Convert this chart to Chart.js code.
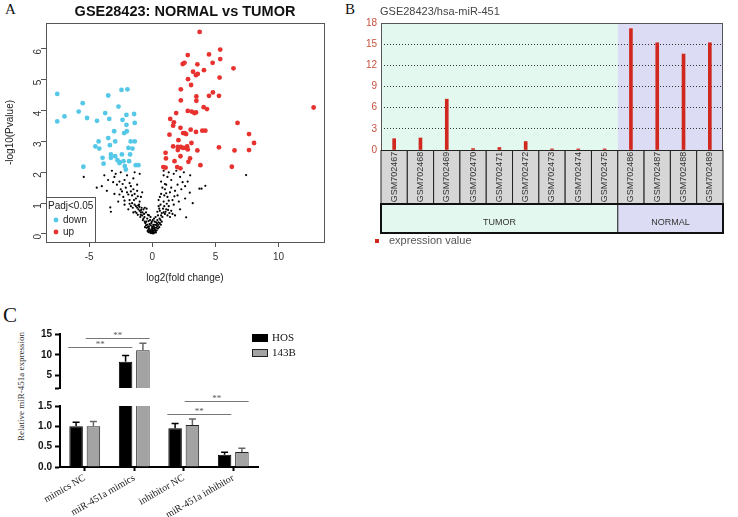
<!DOCTYPE html>
<html>
<head>
<meta charset="utf-8">
<script src="https://cdn.jsdelivr.net/npm/chart.js@4.4.0/dist/chart.umd.min.js"></script>
<style>
  body { margin: 0; background: #fff; width: 738px; height: 517px; position: relative; overflow: hidden; }
  canvas { position: absolute; }
  .lbl { position: absolute; font-family: 'Liberation Serif', serif; color: #111; line-height: 1; }
</style>
</head>
<body>
<div class="lbl" style="left:5px;top:2px;font-size:15px;">A</div>
<div class="lbl" style="left:345px;top:2px;font-size:15px;">B</div>
<div class="lbl" style="left:3px;top:305px;font-size:21px;">C</div>
<div class="lbl" style="left:-39px;top:382px;width:120px;text-align:center;font-size:9px;transform:rotate(-90deg);color:#333;">Relative miR-451a expression</div>

<canvas id="volcano" width="345" height="290" style="left:0;top:0"></canvas>
<canvas id="expr" width="373" height="260" style="left:365px;top:0"></canvas>
<canvas id="qpcrLow" width="310" height="130" style="left:0;top:387px"></canvas>
<canvas id="qpcrHigh" width="310" height="72" style="left:0;top:325px"></canvas>

<script>
// ---- panel A: volcano plot ----
const volcanoXTicks = [-5, 0, 5, 10];
const volcanoYTicks = [0, 1, 2, 3, 4, 5, 6];

const downPoints = [
  [-7.53, 4.54], [-7.53, 3.65], [-6.96, 3.81], [-5.83, 3.97], [-5.51, 4.24], [-5.17, 3.76],
  [-5.46, 2.18], [-4.38, 3.67], [-4.51, 2.84], [-4.25, 3.0], [-4.2, 2.77], [-3.94, 2.47],
  [-3.86, 2.28], [-3.49, 4.49], [-3.73, 3.92], [-3.49, 3.11], [-3.41, 3.73], [-3.36, 2.88],
  [-3.28, 2.58], [-3.28, 2.47], [-3.02, 3.33], [-2.94, 3.0], [-2.94, 2.52], [-2.68, 4.13],
  [-2.76, 2.39], [-2.57, 2.33], [-2.44, 4.67], [-2.36, 3.70], [-2.41, 2.58], [-2.23, 3.27],
  [-2.28, 2.36], [-2.18, 2.2], [-2.05, 3.86], [-2.05, 3.54], [-1.97, 4.69], [-2.02, 3.33],
  [-1.89, 2.79], [-1.76, 2.58], [-1.84, 2.36], [-1.71, 3.0], [-1.57, 2.77], [-1.44, 3.89],
  [-1.39, 3.6], [-1.39, 3.0], [-1.31, 2.23], [-1.1, 2.23], [-2.1, 2.09], [-2.6, 2.3]
];

const upPoints = [
  [3.75, 6.55], [5.38, 5.98], [2.81, 5.80], [4.49, 5.82], [5.38, 5.67], [2.41, 5.51],
  [2.55, 5.55], [3.57, 5.50], [4.78, 5.55], [6.43, 5.37], [4.09, 5.31], [3.23, 5.26],
  [3.6, 5.19], [3.46, 5.15], [5.33, 5.07], [2.83, 5.02], [3.07, 4.83], [2.26, 4.69],
  [4.8, 4.59], [3.49, 4.46], [4.49, 4.48], [5.28, 4.48], [3.49, 4.32], [2.26, 4.33],
  [4.07, 4.11], [4.33, 4.05], [12.78, 4.1], [2.81, 3.99], [3.12, 3.97], [3.33, 3.92],
  [3.46, 3.94], [1.89, 3.92], [1.42, 3.73], [1.71, 3.62], [1.65, 3.51], [6.75, 3.6],
  [2.23, 3.44], [3.04, 3.38], [3.96, 3.35], [4.2, 3.35], [3.46, 3.31], [2.44, 3.27],
  [2.57, 3.27], [2.68, 3.24], [1.36, 3.22], [7.66, 3.24], [2.07, 3.04], [3.1, 2.95],
  [8.06, 2.95], [1.65, 2.84], [2.02, 2.82], [2.26, 2.82], [2.62, 2.79], [2.76, 2.84],
  [2.02, 2.72], [2.44, 2.79], [2.81, 2.74], [3.57, 2.71], [5.28, 2.81], [6.51, 2.71],
  [7.66, 2.72], [2.23, 2.52], [1.05, 2.63], [1.08, 2.45], [1.76, 2.36], [2.86, 2.34],
  [3.81, 2.23], [0.87, 2.17], [1.05, 2.15], [1.97, 2.17], [2.23, 2.13], [6.3, 2.18],
  [2.99, 2.45]
];

const nsPoints = [
  [0, 0.02], [0.05, 0.05], [-0.05, 0.06], [0.1, 0.1], [-0.1, 0.08], [0.15, 0.04], [-0.15, 0.12],
  [0.2, 0.15], [-0.2, 0.1], [0.25, 0.08], [-0.25, 0.18], [0.3, 0.2], [-0.3, 0.14], [0.35, 0.12],
  [-0.35, 0.22], [0.4, 0.25], [-0.4, 0.3], [0.45, 0.18], [-0.45, 0.2], [0.5, 0.3], [-0.5, 0.28],
  [0.55, 0.22], [-0.55, 0.35], [0.6, 0.35], [-0.6, 0.4], [0.02, 0.15], [-0.02, 0.2], [0.12, 0.25],
  [-0.12, 0.28], [0.22, 0.3], [-0.22, 0.32], [0.08, 0.3], [-0.08, 0.35], [0.3, 0.38], [-0.3, 0.42],
  [0.65, 0.45], [-0.7, 0.5], [0.75, 0.4], [-0.75, 0.45], [0.18, 0.4], [-0.18, 0.45], [0.4, 0.45],
  [-0.4, 0.5], [0.1, 0.02], [-0.12, 0.03], [0.28, 0.05], [-0.3, 0.06], [0.03, 0.09], [0.17, 0.2],
  [-0.07, 0.14], [0.07, 0.18], [-0.17, 0.05], [0.22, 0.11], [-0.27, 0.25], [0.33, 0.28], [-0.37, 0.1],
  [0.38, 0.33], [-0.48, 0.4], [0.48, 0.38], [-0.58, 0.22], [0.58, 0.5], [-0.62, 0.55], [0.68, 0.3],
  [0.0, 0.24], [-0.04, 0.4], [0.04, 0.45], [0.14, 0.5], [-0.14, 0.55], [0.26, 0.55], [-0.26, 0.6],
  [-0.8, 0.6], [-0.9, 0.7], [-1.0, 0.75], [-1.1, 0.8], [-0.65, 0.65], [-1.2, 0.85], [-1.3, 0.9],
  [-0.95, 0.55], [-1.4, 0.95], [-1.5, 0.7], [-1.7, 0.9], [-1.9, 0.8], [-0.5, 0.7], [-1.15, 0.62],
  [-2.2, 0.95], [-1.6, 1.0], [-0.85, 0.85], [-1.05, 0.95], [-0.7, 0.8], [-1.35, 0.72],
  [-0.78, 0.7], [-0.88, 0.78], [-1.02, 0.88], [-1.25, 0.68], [-0.6, 0.85], [-1.55, 0.85],
  [-1.8, 0.98], [-0.92, 0.62], [-1.12, 0.92], [-0.45, 0.82],
  [0.7, 0.6], [0.8, 0.55], [0.9, 0.7], [1.0, 0.65], [1.1, 0.8], [1.2, 0.6], [0.6, 0.75],
  [1.3, 0.9], [1.5, 0.75], [1.7, 0.95], [0.95, 0.9], [1.8, 0.6], [2.2, 0.8], [2.68, 0.54],
  [0.5, 0.9], [1.4, 0.55], [0.45, 0.6], [-0.35, 0.62], [0.85, 0.82], [1.15, 0.98], [0.65, 0.95],
  [0.75, 0.68], [1.05, 0.72], [1.25, 0.78], [0.55, 0.82], [1.6, 0.65], [1.35, 0.68], [0.4, 0.72],
  [-1.0, 1.05], [-1.3, 1.15], [-1.6, 1.25], [-1.8, 1.1], [-2.0, 1.35], [-2.3, 1.2], [-2.5, 1.45],
  [-1.2, 1.4], [-0.9, 1.2], [-2.7, 1.05], [-3.0, 1.3], [-2.1, 1.5], [-1.5, 1.45], [-3.33, 0.86],
  [-3.28, 0.72], [-4.4, 1.5], [-3.6, 1.4], [-1.9, 1.28], [-2.4, 1.38], [-1.4, 1.3],
  [-1.15, 1.22], [-1.7, 1.38], [-2.6, 1.28], [-2.2, 1.08], [-1.45, 1.1], [-0.8, 1.35],
  [0.5, 1.1], [0.7, 1.3], [0.9, 1.05], [1.0, 1.45], [1.2, 1.2], [1.4, 1.35], [1.6, 1.1],
  [1.8, 1.4], [2.0, 1.25], [2.3, 1.45], [2.6, 1.15], [2.97, 1.34], [3.2, 1.0], [0.8, 1.5],
  [1.5, 1.5], [2.1, 1.05], [0.6, 1.2], [1.1, 1.32], [1.75, 1.22], [0.95, 1.25], [1.3, 1.08],
  [-1.2, 1.6], [-1.5, 1.8], [-1.8, 1.65], [-2.0, 1.9], [-2.2, 1.75], [-2.5, 2.0], [-2.8, 1.6],
  [-3.0, 1.85], [-3.2, 2.05], [-2.6, 1.7], [-1.0, 1.95], [-3.5, 1.75], [-4.0, 1.55], [-5.43, 1.85],
  [-1.4, 2.0], [-2.9, 1.95], [-3.8, 1.9], [-1.7, 1.55], [-2.35, 1.62], [-3.1, 1.68],
  [0.7, 1.7], [0.9, 1.9], [1.1, 1.6], [1.3, 2.0], [1.5, 1.75], [1.7, 1.95], [2.0, 1.6],
  [2.2, 1.85], [2.5, 2.0], [2.8, 1.7], [3.0, 1.9], [3.73, 1.47], [3.9, 1.47], [4.2, 1.56],
  [7.43, 1.91], [1.2, 1.85], [2.6, 1.55], [1.9, 2.05], [0.9, 2.05], [2.4, 1.68], [1.0, 1.62]
];

// ---- panel B: GEO expression profile ----
const exprSamples = ['GSM702467', 'GSM702468', 'GSM702469', 'GSM702470', 'GSM702471', 'GSM702472',
  'GSM702473', 'GSM702474', 'GSM702475', 'GSM702486', 'GSM702487', 'GSM702488', 'GSM702489'];
const exprValues = [1.6, 1.7, 7.2, 0.2, 0.35, 1.2, 0.15, 0.15, 0.15, 17.2, 15.2, 13.6, 15.2];
const exprGroups = ['TUMOR', 'NORMAL'];
const exprGroupSizes = [9, 4];
const exprYTicks = [0, 3, 6, 9, 12, 15, 18];

// ---- panel C: qPCR ----
const qpcrCategories = ['mimics NC', 'miR-451a mimics', 'inhibitor NC', 'miR-451a inhibitor'];
const hosMean = [1.0, 8.3, 0.95, 0.3];
const hosErr = [0.1, 1.5, 0.12, 0.06];
const b143Mean = [1.0, 11.1, 1.03, 0.37];
const b143Err = [0.12, 1.7, 0.15, 0.09];
const qpcrHighTicks = [2, 5, 10, 15];
const qpcrLowTicks = [0, 0.5, 1.0, 1.5];
// significance brackets: [dataset, category] from -> to, and bracket height
const sigHigh = [
  { from: [0, 0], to: [0, 1], level: 11.8 },
  { from: [1, 0], to: [1, 1], level: 14.15 }
];
const sigLow = [
  { from: [0, 2], to: [0, 3], level: 1.31 },
  { from: [1, 2], to: [1, 3], level: 1.62 }
];

Chart.defaults.font.family = 'Liberation Sans';
Chart.defaults.animation = false;
Chart.defaults.plugins.legend.display = false;
Chart.defaults.plugins.tooltip.enabled = false;

const toPts = arr => arr.map(([x, y]) => ({ x, y }));

const volcanoDecor = {
  id: 'volcanoDecor',
  afterDatasetsDraw(chart) {
    const { ctx, chartArea: a } = chart;
    ctx.save();
    ctx.strokeStyle = '#555';
    ctx.lineWidth = 1;
    ctx.strokeRect(a.left + 0.5, a.top + 0.5, a.right - a.left, a.bottom - a.top);
    // title centred over the plot box
    ctx.fillStyle = '#111';
    ctx.font = 'bold 14.5px Liberation Sans';
    ctx.textAlign = 'center';
    ctx.textBaseline = 'middle';
    ctx.fillText('GSE28423: NORMAL vs TUMOR', (a.left + a.right) / 2, 12);
    // R style legend box in lower left
    const lx = a.left, ly = a.bottom - 45;
    ctx.textAlign = 'left';
    ctx.fillStyle = '#fff';
    ctx.fillRect(lx, ly, 49, 45);
    ctx.strokeRect(lx + 0.5, ly + 0.5, 49, 45);
    ctx.font = '10px Liberation Sans';
    ctx.fillStyle = '#222';
    ctx.fillText('Padj<0.05', lx + 2, ly + 9);
    ctx.fillStyle = '#55c8e8';
    ctx.beginPath(); ctx.arc(lx + 10, ly + 23, 2.4, 0, Math.PI * 2); ctx.fill();
    ctx.fillStyle = '#e8322f';
    ctx.beginPath(); ctx.arc(lx + 10, ly + 35, 2.4, 0, Math.PI * 2); ctx.fill();
    ctx.fillStyle = '#222';
    ctx.fillText('down', lx + 17, ly + 23);
    ctx.fillText('up', lx + 17, ly + 35);
    ctx.restore();
  }
};

new Chart(document.getElementById('volcano'), {
  type: 'scatter',
  data: {
    datasets: [
      { label: 'up', data: toPts(upPoints), pointRadius: 2.4, backgroundColor: '#e8322f', borderWidth: 0 },
      { label: 'down', data: toPts(downPoints), pointRadius: 2.4, backgroundColor: '#55c8e8', borderWidth: 0 },
      { label: 'ns', data: toPts(nsPoints), pointRadius: 1.1, backgroundColor: '#000', borderWidth: 0 }
    ]
  },
  options: {
    responsive: false,
    layout: { padding: { left: 0, right: 21, top: 23, bottom: 0 } },
    scales: {
      x: {
        type: 'linear', min: -8.42, max: 13.6,
        afterBuildTicks: s => { s.ticks = volcanoXTicks.map(v => ({ value: v })); },
        afterFit: s => { s.height = 48; },
        grid: { drawOnChartArea: false, tickLength: 5, color: '#555' },
        border: { display: false },
        ticks: { font: { size: 10 }, color: '#333', padding: 4 },
        title: { display: true, text: 'log2(fold change)', font: { size: 10 }, color: '#222', padding: { top: 0, bottom: 6 } }
      },
      y: {
        type: 'linear', min: -0.26, max: 6.84,
        afterBuildTicks: s => { s.ticks = volcanoYTicks.map(v => ({ value: v })); },
        afterFit: s => { s.width = 46; },
        grid: { drawOnChartArea: false, tickLength: 5, color: '#555' },
        border: { display: false },
        ticks: { font: { size: 10 }, color: '#333', padding: 3, minRotation: 90, maxRotation: 90 },
        title: { display: true, text: '-log10(Pvalue)', font: { size: 10 }, color: '#222', padding: { top: 4, bottom: 0 } }
      }
    }
  },
  plugins: [volcanoDecor]
});

// panel B: shaded groups, sample table, legend
const exprDecor = {
  id: 'exprDecor',
  beforeDraw(chart) {
    const { ctx, chartArea: a, scales: { x } } = chart;
    const split = (x.getPixelForValue(exprGroupSizes[0] - 1) + x.getPixelForValue(exprGroupSizes[0])) / 2;
    ctx.save();
    ctx.fillStyle = '#e3f8ef';
    ctx.fillRect(a.left, a.top, split - a.left, a.bottom - a.top);
    ctx.fillStyle = '#dcdcf4';
    ctx.fillRect(split, a.top, a.right - split, a.bottom - a.top);
    ctx.restore();
  },
  afterDraw(chart) {
    const { ctx, chartArea: a, scales: { x } } = chart;
    const w = (a.right - a.left) / exprSamples.length;
    const split = a.left + w * exprGroupSizes[0];
    ctx.save();
    ctx.strokeStyle = '#555';
    ctx.lineWidth = 1;
    ctx.strokeRect(a.left + 0.5, a.top + 0.5, a.right - a.left - 1, a.bottom - a.top);
    // sample name cells
    const cTop = a.bottom, cH = 54;
    ctx.font = '9px Liberation Sans';
    ctx.textAlign = 'center';
    ctx.textBaseline = 'middle';
    exprSamples.forEach((name, i) => {
      const cx = x.getPixelForValue(i);
      ctx.fillStyle = '#d6d6d6';
      ctx.fillRect(cx - w / 2, cTop, w, cH);
      ctx.strokeStyle = '#222';
      ctx.strokeRect(cx - w / 2, cTop + 0.5, w, cH);
      ctx.save();
      ctx.translate(cx, cTop + cH / 2);
      ctx.rotate(-Math.PI / 2);
      ctx.fillStyle = '#333';
      ctx.fillText(name, 0, 0);
      ctx.restore();
    });
    // group row
    const gTop = cTop + cH, gH = 29;
    ctx.fillStyle = '#e3f8ef';
    ctx.fillRect(a.left, gTop, split - a.left, gH);
    ctx.fillStyle = '#dcdcf4';
    ctx.fillRect(split, gTop, a.right - split, gH);
    ctx.strokeStyle = '#111';
    ctx.lineWidth = 2;
    ctx.strokeRect(a.left, gTop, a.right - a.left, gH);
    ctx.lineWidth = 1;
    ctx.beginPath(); ctx.moveTo(split, gTop); ctx.lineTo(split, gTop + gH); ctx.stroke();
    ctx.fillStyle = '#333';
    ctx.font = '9px Liberation Sans';
    ctx.fillText(exprGroups[0], (a.left + split) / 2, gTop + gH / 2 + 4);
    ctx.fillText(exprGroups[1], (split + a.right) / 2, gTop + gH / 2 + 4);
    // title and legend
    ctx.textAlign = 'left';
    ctx.font = '11px Liberation Sans';
    ctx.fillStyle = '#444';
    ctx.fillText('GSE28423/hsa-miR-451', 15, 12);
    ctx.fillStyle = '#d0281e';
    ctx.fillRect(10, gTop + gH + 6, 4, 4);
    ctx.fillStyle = '#555';
    ctx.fillText('expression value', 24, gTop + gH + 8);
    ctx.restore();
  }
};

new Chart(document.getElementById('expr'), {
  type: 'bar',
  data: {
    labels: exprSamples,
    datasets: [{ label: 'expression value', data: exprValues, backgroundColor: '#d0281e', barThickness: 3 }]
  },
  options: {
    responsive: false,
    layout: { padding: { left: 0, right: 15, top: 23, bottom: 110 } },
    scales: {
      x: { display: false },
      y: {
        min: 0, max: 18,
        afterBuildTicks: s => { s.ticks = exprYTicks.map(v => ({ value: v })); },
        afterFit: s => { s.width = 16; },
        grid: {
          drawTicks: false,
          color: c => (c.tick && (c.tick.value === 0 || c.tick.value === 18)) ? 'rgba(0,0,0,0)' : '#333'
        },
        border: { display: false, dash: [1, 2] },
        ticks: { font: { size: 10 }, color: '#c8503f', padding: 4 }
      }
    }
  },
  plugins: [exprDecor]
});

// panel C: broken y axis made of two stacked charts
function errorBars(part) {
  return {
    id: 'errorBars' + part,
    afterDatasetsDraw(chart) {
      const { ctx, scales: { y } } = chart;
      const errs = [hosErr, b143Err];
      const cols = ['#000', '#666'];
      ctx.save();
      ctx.lineWidth = 1.5;
      chart.data.datasets.forEach((ds, di) => {
        chart.getDatasetMeta(di).data.forEach((bar, i) => {
          const v = ds.data[i], top = v + errs[di][i];
          if (part === 'high' && v <= y.min) return;
          if (part === 'low' && top > y.max) return;
          const py = y.getPixelForValue(top), pv = y.getPixelForValue(v);
          ctx.strokeStyle = cols[di];
          ctx.beginPath();
          ctx.moveTo(bar.x, pv); ctx.lineTo(bar.x, py);
          ctx.moveTo(bar.x - 3.5, py); ctx.lineTo(bar.x + 3.5, py);
          ctx.stroke();
        });
      });
      ctx.restore();
    }
  };
}

function sigBrackets(list) {
  return {
    id: 'sig',
    afterDraw(chart) {
      const { ctx, scales: { y } } = chart;
      ctx.save();
      ctx.strokeStyle = '#777';
      ctx.fillStyle = '#555';
      ctx.lineWidth = 1;
      ctx.font = '9px Liberation Serif';
      ctx.textAlign = 'center';
      list.forEach(s => {
        const b0 = chart.getDatasetMeta(s.from[0]).data[s.from[1]];
        const b1 = chart.getDatasetMeta(s.to[0]).data[s.to[1]];
        const x0 = b0.x - b0.width / 2 - 1, x1 = b1.x + b1.width / 2;
        const py = Math.round(y.getPixelForValue(s.level)) + 0.5;
        ctx.beginPath(); ctx.moveTo(x0, py); ctx.lineTo(x1, py); ctx.stroke();
        ctx.fillText('**', (x0 + x1) / 2, py - 1);
      });
      ctx.restore();
    }
  };
}

const qpcrLegend = {
  id: 'qpcrLegend',
  afterDraw(chart) {
    const { ctx } = chart;
    ctx.save();
    ctx.fillStyle = '#000';
    ctx.fillRect(252, 9, 16, 8);
    ctx.fillStyle = '#a3a3a3';
    ctx.fillRect(252, 24, 16, 8);
    ctx.strokeStyle = '#222';
    ctx.strokeRect(252.5, 24.5, 15, 7);
    ctx.fillStyle = '#111';
    ctx.font = '11px Liberation Serif';
    ctx.textBaseline = 'middle';
    ctx.fillText(chart.data.datasets[0].label, 272, 13);
    ctx.fillText(chart.data.datasets[1].label, 272, 28);
    ctx.restore();
  }
};

function qpcrDatasets() {
  return [
    { label: 'HOS', data: hosMean, backgroundColor: '#000', borderColor: '#000', borderWidth: 1,
      categoryPercentage: 0.7, barPercentage: 0.78 },
    { label: '143B', data: b143Mean, backgroundColor: '#a3a3a3', borderColor: '#222', borderWidth: 1,
      categoryPercentage: 0.7, barPercentage: 0.78 }
  ];
}

const yAxisCommon = {
  afterFit: s => { s.width = 60; },
  grid: { drawOnChartArea: false, tickLength: 5, tickWidth: 2, tickColor: '#000' },
  border: { color: '#000', width: 2 },
  ticks: { font: { size: 10, weight: 'bold' }, color: '#111', padding: 3 }
};

new Chart(document.getElementById('qpcrHigh'), {
  type: 'bar',
  data: { labels: qpcrCategories, datasets: qpcrDatasets() },
  options: {
    responsive: false,
    layout: { padding: { left: 0, right: 52, top: 9, bottom: 1 } },
    scales: {
      x: { display: false },
      y: Object.assign({}, yAxisCommon, {
        min: 2, max: 15,
        afterBuildTicks: s => { s.ticks = qpcrHighTicks.map(v => ({ value: v })); },
        ticks: Object.assign({}, yAxisCommon.ticks, { callback: v => v === qpcrHighTicks[0] ? '' : v })
      })
    }
  },
  plugins: [errorBars('high'), sigBrackets(sigHigh), qpcrLegend]
});

new Chart(document.getElementById('qpcrLow'), {
  type: 'bar',
  data: { labels: qpcrCategories, datasets: qpcrDatasets() },
  options: {
    responsive: false,
    layout: { padding: { left: 0, right: 52, top: 19, bottom: 0 } },
    scales: {
      x: {
        afterFit: s => { s.height = 50; },
        grid: { drawOnChartArea: false, offset: false, tickLength: 4, tickWidth: 2, tickColor: '#000' },
        border: { color: '#000', width: 2 },
        ticks: { font: { family: 'Liberation Serif', size: 10 }, color: '#222', minRotation: 30, maxRotation: 30,
                 autoSkip: false, padding: 1 }
      },
      y: Object.assign({}, yAxisCommon, {
        min: 0, max: 1.5,
        afterBuildTicks: s => { s.ticks = qpcrLowTicks.map(v => ({ value: v })); },
        ticks: Object.assign({}, yAxisCommon.ticks, { callback: v => Number(v).toFixed(1) })
      })
    }
  },
  plugins: [errorBars('low'), sigBrackets(sigLow)]
});
</script>
</body>
</html>
